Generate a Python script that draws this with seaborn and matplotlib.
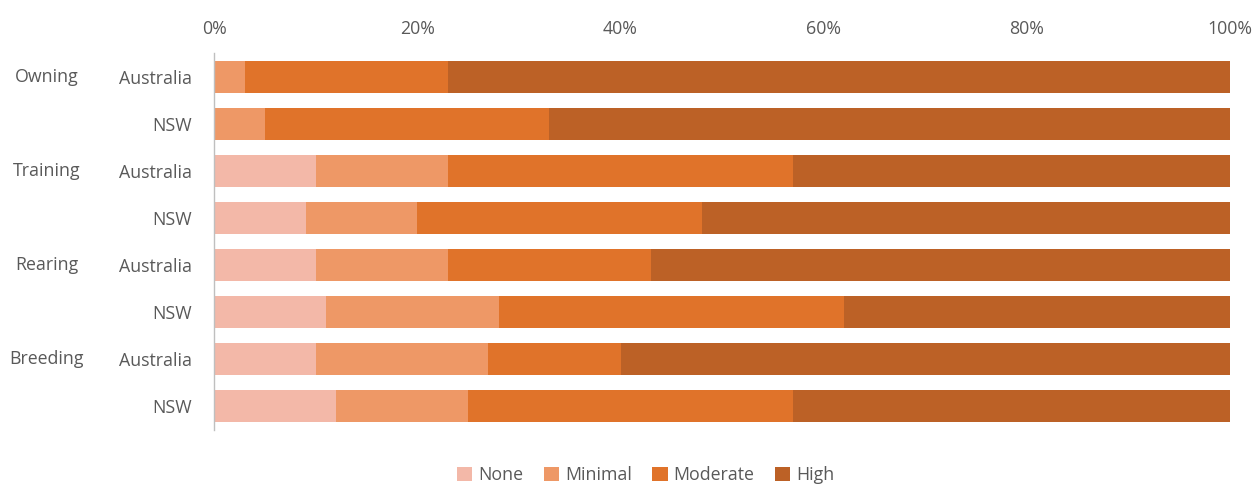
import matplotlib
matplotlib.use("Agg")
import matplotlib.pyplot as plt
import matplotlib.transforms as mtransforms
import seaborn as sns
import pandas as pd
import numpy as np

# Share of respondents by level, per activity and region (percent)
activities = ["Owning", "Training", "Rearing", "Breeding"]
regions = ["Australia", "NSW"]
levels = ["None", "Minimal", "Moderate", "High"]

none_pct     = [0, 0, 10, 9, 10, 11, 10, 12]
minimal_pct  = [3, 5, 13, 11, 13, 17, 17, 13]
moderate_pct = [20, 28, 34, 28, 20, 34, 13, 32]
high_pct     = [77, 67, 43, 52, 57, 38, 60, 43]

level_colors = ["#F3B8A8", "#EE9866", "#E0732A", "#BC6126"]

sns.set_theme(style="white")
plt.rcParams["font.family"] = ["Open Sans", "DejaVu Sans"]
text_color = "#595959"
fs = 12.8

rows = [f"{a}|{r}" for a in activities for r in regions]
df = pd.DataFrame({
    "row": rows,
    "None": none_pct,
    "Minimal": minimal_pct,
    "Moderate": moderate_pct,
    "High": high_pct,
})
# cumulative totals so each level is drawn as a stacked segment
cum = df[levels].cumsum(axis=1)

fig = plt.figure(figsize=(12.54, 4.84), dpi=100)
ax = fig.add_axes([0.1707, 0.1126, 0.8103, 0.7769])

for lvl, col in reversed(list(zip(levels, level_colors))):
    sns.barplot(x=cum[lvl], y=df["row"], order=rows, orient="h",
                color=col, width=0.68, ax=ax, label=lvl, saturation=1,
                linewidth=0, edgecolor="none")

ax.set_xlim(0, 100)
ax.set_ylim(len(rows) - 0.5, -0.5)
ax.xaxis.tick_top()
ax.set_xticks(np.arange(0, 101, 20))
ax.set_xticklabels([f"{v}%" for v in range(0, 101, 20)])
ax.set_xlabel("")
ax.set_ylabel("")
ax.tick_params(axis="x", length=0, pad=11, labelsize=fs, labelcolor=text_color)
ax.tick_params(axis="y", length=0, pad=16, labelsize=fs, labelcolor=text_color)
ax.set_yticks(range(len(rows)))
ax.set_yticklabels([r.split("|")[1] for r in rows])

for s in ["top", "right", "bottom"]:
    ax.spines[s].set_visible(False)
ax.spines["left"].set_color("#BFBFBF")
ax.spines["left"].set_linewidth(1)

# activity group labels alongside the first row of each pair
group_tf = mtransforms.blended_transform_factory(fig.transFigure, ax.transData)
for i, a in enumerate(activities):
    ax.text(47 / 1254, 2 * i, a, transform=group_tf, ha="center",
            va="center", fontsize=fs, color=text_color)

handles, labels = ax.get_legend_handles_labels()
order = [labels.index(l) for l in levels]
ax.legend([handles[i] for i in order], levels, loc="center",
          bbox_to_anchor=(0.515, 0.018), bbox_transform=fig.transFigure,
          ncol=4, frameon=False, fontsize=fs, labelcolor=text_color,
          handlelength=0.85, handleheight=0.85, handletextpad=0.35,
          columnspacing=1.15)

fig.savefig("out.png", dpi=100, facecolor="white")
